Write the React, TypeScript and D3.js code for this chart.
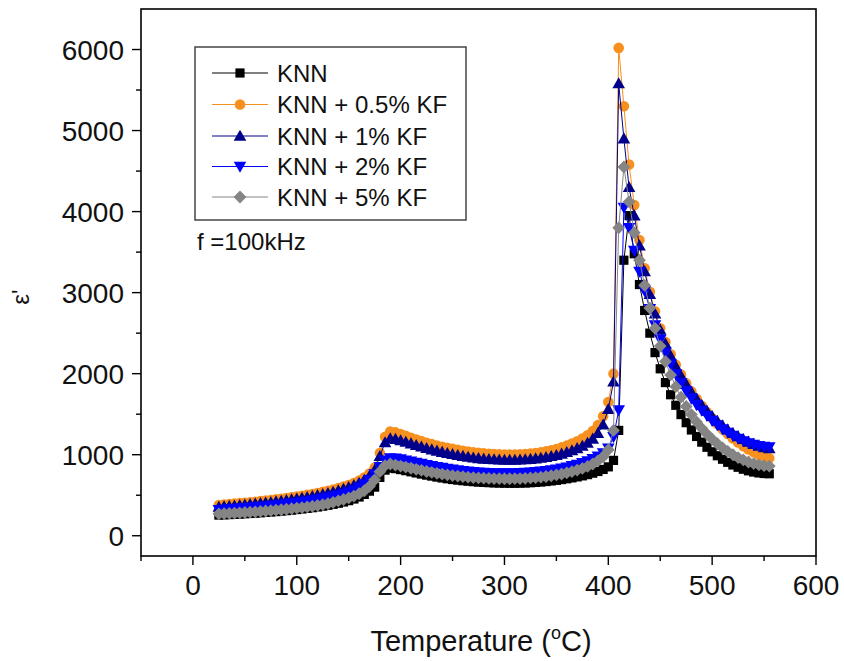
import React from 'react';
import * as d3 from 'd3';

const temps = [
  25, 30, 35, 40, 45, 50, 55, 60, 65, 70,
  75, 80, 85, 90, 95, 100, 105, 110, 115, 120,
  125, 130, 135, 140, 145, 150, 155, 160, 165, 170,
  175, 180, 185, 190, 195, 200, 205, 210, 215, 220,
  225, 230, 235, 240, 245, 250, 255, 260, 265, 270,
  275, 280, 285, 290, 295, 300, 305, 310, 315, 320,
  325, 330, 335, 340, 345, 350, 355, 360, 365, 370,
  375, 380, 385, 390, 395, 400, 405, 410, 415, 420,
  425, 430, 435, 440, 445, 450, 455, 460, 465, 470,
  475, 480, 485, 490, 495, 500, 505, 510, 515, 520,
  525, 530, 535, 540, 545, 550, 555,
];

const knn = [
  255, 258, 261, 264, 267, 271, 275, 279, 283, 288,
  293, 298, 304, 310, 316, 323, 330, 338, 346, 355,
  365, 376, 388, 401, 416, 433, 453, 478, 510, 550,
  600, 720, 810, 835, 828, 816, 803, 789, 775, 761,
  748, 736, 724, 713, 703, 694, 686, 679, 673, 667,
  662, 658, 655, 652, 650, 649, 648, 648, 649, 651,
  654, 658, 663, 669, 676, 684, 693, 703, 714, 726,
  739, 754, 772, 793, 818, 850, 930, 1300, 3400, 3950,
  3480, 3100, 2780, 2500, 2260, 2060, 1890, 1740, 1610, 1495,
  1395, 1305, 1225, 1155, 1092, 1036, 987, 944, 906, 873,
  845, 821, 801, 786, 775, 768, 765,
];

const kf05 = [
  380, 385, 390, 396, 402, 408, 414, 420, 427, 434,
  441, 449, 457, 465, 474, 484, 494, 505, 516, 528,
  541, 555, 570, 587, 606, 627, 651, 680, 718, 768,
  840, 1020, 1220, 1285, 1275, 1255, 1232, 1210, 1188, 1167,
  1148, 1130, 1114, 1099, 1085, 1072, 1060, 1049, 1039, 1030,
  1023, 1017, 1012, 1008, 1005, 1003, 1002, 1003, 1005, 1009,
  1014, 1021, 1030, 1041, 1055, 1071, 1090, 1112, 1137, 1166,
  1200, 1240, 1292, 1365, 1475, 1650, 2000, 6020, 5300, 4580,
  4080, 3650, 3300, 3010, 2770, 2560, 2390, 2240, 2110, 1990,
  1880, 1780, 1690, 1605, 1525, 1450, 1380, 1315, 1255, 1200,
  1150, 1105, 1065, 1030, 1000, 975, 955,
];

const kf1 = [
  355, 360, 365, 370, 376, 382, 388, 394, 400, 407,
  414, 421, 429, 437, 446, 455, 465, 475, 486, 498,
  511, 525, 540, 557, 576, 597, 621, 650, 688, 738,
  810, 980, 1150, 1200, 1192, 1176, 1157, 1137, 1117, 1098,
  1080, 1063, 1047, 1032, 1018, 1005, 993, 982, 972, 963,
  955, 949, 944, 940, 937, 935, 934, 935, 937, 940,
  945, 951, 959, 968, 980, 994, 1010, 1030, 1052, 1078,
  1108, 1145, 1195, 1265, 1370, 1560, 1900, 5580, 4900, 4300,
  3950, 3580, 3260, 2980, 2740, 2540, 2370, 2220, 2090, 1975,
  1870, 1775, 1690, 1612, 1540, 1475, 1415, 1360, 1310, 1265,
  1225, 1190, 1158, 1130, 1107, 1090, 1078,
];

const kf2 = [
  320, 324, 328, 332, 337, 342, 347, 352, 358, 364,
  370, 377, 384, 391, 399, 407, 416, 425, 435, 446,
  458, 471, 485, 500, 517, 536, 562, 596, 638, 690,
  760, 850, 930, 960, 955, 945, 932, 918, 904, 890,
  876, 863, 851, 840, 829, 819, 810, 802, 795, 789,
  784, 780, 777, 775, 774, 773, 773, 774, 776, 779,
  783, 788, 794, 801, 810, 820, 832, 846, 862, 880,
  900, 922, 948, 980, 1020, 1080, 1220, 1550, 4050, 3800,
  3520, 3260, 3020, 2800, 2600, 2420, 2260, 2120, 1995, 1885,
  1785, 1695, 1615, 1545, 1480, 1420, 1367, 1318, 1274, 1235,
  1200, 1170, 1145, 1125, 1110, 1100, 1095,
];

const kf5 = [
  270, 273, 276, 279, 283, 287, 291, 295, 300, 305,
  310, 315, 321, 327, 334, 341, 348, 356, 364, 373,
  383, 396, 412, 430, 447, 467, 490, 518, 555, 610,
  690, 790, 865, 885, 872, 860, 847, 833, 819, 806,
  793, 781, 770, 760, 751, 743, 736, 729, 723, 718,
  714, 710, 707, 705, 704, 703, 703, 704, 706, 709,
  713, 718, 724, 731, 740, 750, 762, 776, 792, 810,
  831, 855, 885, 925, 975, 1060, 1300, 3800, 4550, 4120,
  3740, 3400, 3090, 2810, 2560, 2340, 2150, 1985, 1840, 1710,
  1595, 1495, 1405, 1325, 1255, 1192, 1135, 1085, 1040, 1000,
  965, 935, 910, 890, 875, 865, 860,
];

const seriesNames = ['KNN', 'KNN + 0.5% KF', 'KNN + 1% KF', 'KNN + 2% KF', 'KNN + 5% KF'];
const seriesValues = [knn, kf05, kf1, kf2, kf5];
const seriesColors = ['#000000', '#f7901e', '#00008b', '#0000ff', '#858585'];
const seriesMarkers = ['square', 'circle', 'triUp', 'triDown', 'diamond'];

const xMajor = [0, 100, 200, 300, 400, 500, 600];
const xMinor = [-50, 50, 150, 250, 350, 450, 550];
const yMajor = [0, 1000, 2000, 3000, 4000, 5000, 6000];
const yMinor = [500, 1500, 2500, 3500, 4500, 5500];

const FONT = "'Liberation Sans', Arial, Helvetica, sans-serif";

function markerPath(kind: string): string {
  switch (kind) {
    case 'square':
      return 'M-4.6,-4.6L4.6,-4.6L4.6,4.6L-4.6,4.6Z';
    case 'circle':
      return 'M5.3,0A5.3,5.3 0 1 1 -5.3,0A5.3,5.3 0 1 1 5.3,0Z';
    case 'triUp':
      return 'M0,-6.3L6.3,4.8L-6.3,4.8Z';
    case 'triDown':
      return 'M0,6.3L6.3,-4.8L-6.3,-4.8Z';
    case 'diamond':
      return 'M0,-6.4L6.4,0L0,6.4L-6.4,0Z';
    default:
      return '';
  }
}

export default function App() {
  const W = 844;
  const H = 661;
  const L = 141, R = 816, T = 9, B = 556;
  const x = d3.scaleLinear().domain([-50, 600]).range([L, R]);
  const y = d3.scaleLinear().domain([-250, 6500]).range([B, T]);

  const legendX = 195, legendY = 47, legendW = 271, legendH = 173;
  const rowYs = [73, 104.5, 136, 166.5, 197];

  return (
    <svg width={W} height={H} style={{ position: 'absolute', left: 0, top: 0, background: '#fff' }}
      fontFamily={FONT}>
      <rect x={0} y={0} width={W} height={H} fill="#fff" />
      {seriesValues.map((vals, si) => {
        const line = d3.line<number>()
          .x((_, i) => x(temps[i]))
          .y((d) => y(d));
        return (
          <g key={si}>
            <path d={line(vals) || ''} fill="none" stroke={seriesColors[si]} strokeWidth={1} />
            {vals.map((v, i) => (
              <path key={i} d={markerPath(seriesMarkers[si])}
                transform={`translate(${x(temps[i])},${y(v)})`}
                fill={seriesColors[si]} />
            ))}
          </g>
        );
      })}
      <rect x={L} y={T} width={R - L} height={B - T} fill="none" stroke="#000" strokeWidth={1.6} />
      {xMajor.map((t) => (
        <g key={'xm' + t}>
          <line x1={x(t)} x2={x(t)} y1={B} y2={B + 9} stroke="#000" strokeWidth={1.4} />
          <text x={x(t)} y={595} fontSize={28} textAnchor="middle" fill="#111">{t}</text>
        </g>
      ))}
      {xMinor.map((t) => (
        <line key={'xn' + t} x1={x(t)} x2={x(t)} y1={B} y2={B + 5} stroke="#000" strokeWidth={1.4} />
      ))}
      {yMajor.map((t) => (
        <g key={'ym' + t}>
          <line x1={L - 9} x2={L} y1={y(t)} y2={y(t)} stroke="#000" strokeWidth={1.4} />
          <text x={124} y={y(t) + 10} fontSize={28} textAnchor="end" fill="#111">{t}</text>
        </g>
      ))}
      {yMinor.map((t) => (
        <line key={'yn' + t} x1={L - 5} x2={L} y1={y(t)} y2={y(t)} stroke="#000" strokeWidth={1.4} />
      ))}
      <text x={481} y={651} fontSize={29} textAnchor="middle" fill="#111">
        Temperature (<tspan fontSize={18} dy={-12}>o</tspan><tspan dy={12}>C)</tspan>
      </text>
      <text transform="translate(29,297) rotate(-90)" fontSize={24} textAnchor="middle" fill="#111">ε'</text>
      <rect x={legendX} y={legendY} width={legendW} height={legendH} fill="#fff" stroke="#444" strokeWidth={1.5} />
      {seriesNames.map((name, si) => (
        <g key={'lg' + si}>
          <line x1={212} x2={268} y1={rowYs[si]} y2={rowYs[si]} stroke={seriesColors[si]} strokeWidth={1} />
          <path d={markerPath(seriesMarkers[si])} transform={`translate(240,${rowYs[si]})`} fill={seriesColors[si]} />
          <text x={277} y={rowYs[si] + 8.5} fontSize={24} fill="#111">{name}</text>
        </g>
      ))}
      <text x={197} y={250} fontSize={24} fill="#111">f =100kHz</text>
    </svg>
  );
}
